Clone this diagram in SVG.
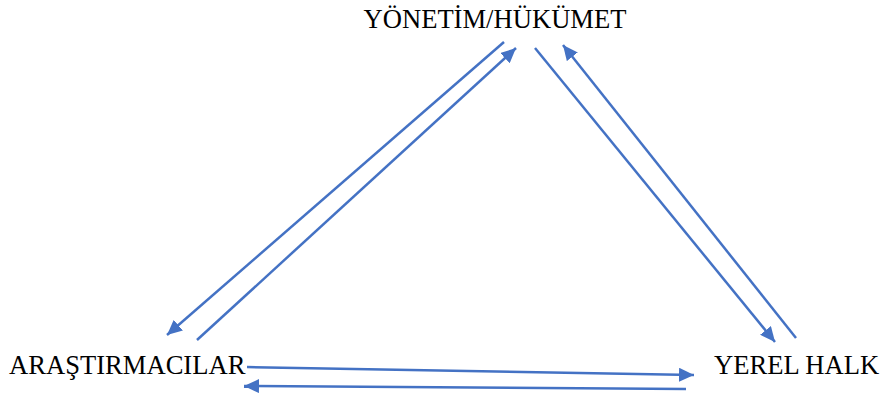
<svg xmlns="http://www.w3.org/2000/svg" width="883" height="394" viewBox="0 0 883 394">
<style>
text{font-family:"Liberation Serif","Times New Roman",serif;font-size:26.6px;fill:#000}
.c line{stroke:#4472C4;stroke-width:2.5;fill:none}
</style>
<defs>
<marker id="ah" markerUnits="userSpaceOnUse" markerWidth="16" markerHeight="14" refX="15" refY="7" orient="auto">
<path d="M0,0 L15,7 L0,14 Z" fill="#4472C4"/>
</marker>
</defs>
<rect width="883" height="394" fill="#fff"/>
<g id="n-yonetim"><text x="495" y="28" text-anchor="middle">YÖNETİM/HÜKÜMET</text></g>
<g id="n-arastirmacilar"><text x="9" y="374">ARAŞTIRMACILAR</text></g>
<g id="n-yerel"><text x="714" y="374">YEREL HALK</text></g>
<g class="c" id="connectors">
<line x1="504" y1="42" x2="167" y2="335" marker-end="url(#ah)"/>
<line x1="197" y1="340" x2="516" y2="48" marker-end="url(#ah)"/>
<line x1="535" y1="48" x2="775" y2="342" marker-end="url(#ah)"/>
<line x1="796" y1="338" x2="563" y2="45" marker-end="url(#ah)"/>
<line x1="247" y1="367" x2="694" y2="375" marker-end="url(#ah)"/>
<line x1="686" y1="389" x2="244" y2="386" marker-end="url(#ah)"/>
</g>
</svg>
